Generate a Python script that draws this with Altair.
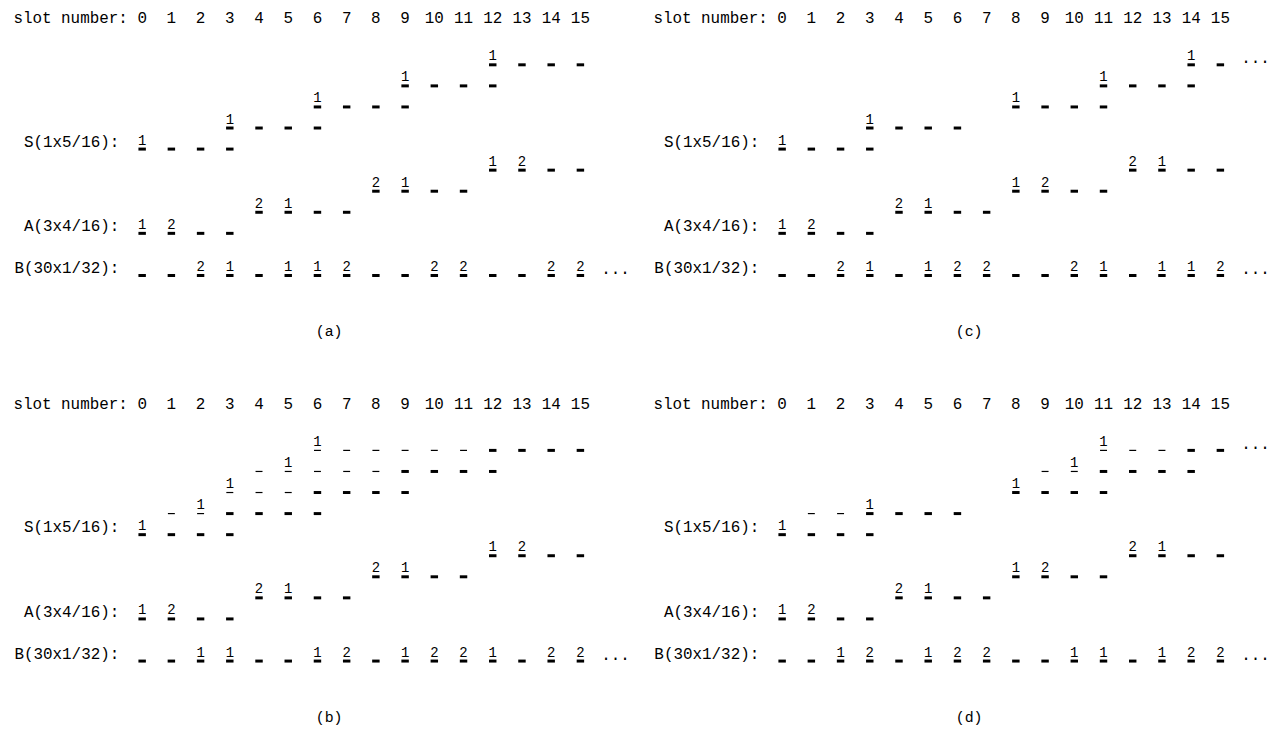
import altair as alt
import pandas as pd

# ---------------- data ----------------
PANELS = ["a", "b", "c", "d"]
SLOT_NUMBERS = [str(s) for s in range(16)]
HEADER_TEXT = "slot number:"
ROW_LABELS = {"S": "S(1x5/16):", "A": "A(3x4/16):", "B": "B(30x1/32):"}
CAPTIONS = {"a": "(a)", "b": "(b)", "c": "(c)", "d": "(d)"}

# per slot: '=' bold dash, '-' thin dash, '.' nothing ; numbers: digit or '.'
S_MARKS_A = ["====............", "...====.........", "......====......",
             ".........====...", "............===="]
S_NUMS_A = ["1...............", "...1............", "......1.........",
            ".........1......", "............1..."]
S_MARKS_B = ["====............", ".--====.........", "...---====......",
             "....-----====...", "......------===="]
S_NUMS_B = ["1...............", "..1.............", "...1............",
            ".....1..........", "......1........."]
S_MARKS_C = ["====............", "...====.........", "........====....",
             "...........====.", "..............=="]
S_NUMS_C = ["1...............", "...1............", "........1.......",
            "...........1....", "..............1."]
S_MARKS_D = ["====............", ".--====.........", "........====....",
             ".........--====.", "...........---=="]
S_NUMS_D = ["1...............", "...1............", "........1.......",
            "..........1.....", "...........1...."]

A_MARKS = ["====............", "....====........", "........====....",
           "............===="]
A_NUMS_AB = ["12..............", "....21..........", "........21......",
             "............12.."]
A_NUMS_CD = ["12..............", "....21..........", "........12......",
             "............21.."]

B_MARKS = "================"
B_NUMS = {"a": "..21.112..22..22", "b": "..11..12.1221.22",
          "c": "..21.122..21.112", "d": "..12.122..11.122"}

# rows that end with "..."
ELLIPSIS_ROWS = {"a": ["B"], "b": ["B"], "c": ["S4", "B"], "d": ["S4", "B"]}

S_DATA = {"a": (S_MARKS_A, S_NUMS_A), "b": (S_MARKS_B, S_NUMS_B),
          "c": (S_MARKS_C, S_NUMS_C), "d": (S_MARKS_D, S_NUMS_D)}
A_DATA = {"a": A_NUMS_AB, "b": A_NUMS_AB, "c": A_NUMS_CD, "d": A_NUMS_CD}

# line index of each row (one text line = one unit)
V_A0, V_S0, V_B, V_HEADER, V_CAPTION = 0, 4, -2, 10, -5
CAPTION_SLOT = 6.4

rows = []


def add_row(panel, v, marks, nums):
    for s, (m, n) in enumerate(zip(marks, nums)):
        if m == "=":
            rows.append(dict(panel=panel, kind="thick", x=s, v=v, text=""))
        elif m == "-":
            rows.append(dict(panel=panel, kind="thin", x=s, v=v, text=""))
        if n != ".":
            rows.append(dict(panel=panel, kind="num", x=s, v=v, text=n))


for p in PANELS:
    sm, sn = S_DATA[p]
    for k in range(5):
        add_row(p, V_S0 + k, sm[k], sn[k])
    for k in range(4):
        add_row(p, V_A0 + k, A_MARKS[k], A_DATA[p][k])
    add_row(p, V_B, B_MARKS, B_NUMS[p])
    for s, t in enumerate(SLOT_NUMBERS):
        rows.append(dict(panel=p, kind="hdr", x=s, v=V_HEADER, text=t))
    rows.append(dict(panel=p, kind="hdrlabel", x=0, v=V_HEADER, text=HEADER_TEXT))
    rows.append(dict(panel=p, kind="rowlabel", x=0, v=V_S0, text=ROW_LABELS["S"]))
    rows.append(dict(panel=p, kind="rowlabel", x=0, v=V_A0, text=ROW_LABELS["A"]))
    rows.append(dict(panel=p, kind="rowlabel", x=0, v=V_B, text=ROW_LABELS["B"]))
    for r in ELLIPSIS_ROWS[p]:
        vv = V_B if r == "B" else V_S0 + int(r[1:])
        rows.append(dict(panel=p, kind="dots", x=16, v=vv, text="..."))
    rows.append(dict(panel=p, kind="cap", x=CAPTION_SLOT, v=V_CAPTION, text=CAPTIONS[p]))

df = pd.DataFrame(rows)

# ---------------- layout ----------------
CELL_W, CELL_H = 636, 334
PANEL_DX, PANEL_DY = 644, 388
PX_SLOT = 29.4
SLOT0_PX = 135.0
LINE_PX = 21.2
V0_PX = 224.5

XMIN = -SLOT0_PX / PX_SLOT
XMAX = XMIN + CELL_W / PX_SLOT
VMAX = V0_PX / LINE_PX
VMIN = VMAX - CELL_H / LINE_PX
HDR_TOP_DY = -(V0_PX - V_HEADER * LINE_PX)   # header line's top sits at the view top

FONT = "Liberation Mono"

X = alt.X("x:Q", scale=alt.Scale(domain=[XMIN, XMAX], nice=False, zero=False), axis=None)
Y = alt.Y("v:Q", scale=alt.Scale(domain=[VMIN, VMAX], nice=False, zero=False), axis=None)


def make_panel(p):
    base = alt.Chart(df[df["panel"] == p])

    def flt(kind):
        return base.transform_filter(alt.datum.kind == kind)

    thick = flt("thick").mark_tick(orient="horizontal", size=7.5, thickness=3,
                                   color="black", opacity=1).encode(x=X, y=Y)
    thin = flt("thin").mark_tick(orient="horizontal", size=7, thickness=1.2,
                                 color="black", opacity=1).encode(x=X, y=Y)
    nums = flt("num").mark_text(font=FONT, fontSize=14, color="black", align="center",
                                baseline="alphabetic", dy=-4.5).encode(x=X, y=Y, text="text:N")
    hdr = flt("hdr").mark_text(font=FONT, fontSize=16, color="black", align="center",
                               baseline="top", dy=HDR_TOP_DY).encode(x=X, y=Y, text="text:N")
    hdrlabel = flt("hdrlabel").mark_text(font=FONT, fontSize=16, color="black", align="right",
                                         baseline="top", dy=HDR_TOP_DY, dx=-14.4).encode(
        x=X, y=Y, text="text:N")
    rowlabel = flt("rowlabel").mark_text(font=FONT, fontSize=16, color="black", align="right",
                                         baseline="alphabetic", dy=-2.4, dx=-23).encode(
        x=X, y=Y, text="text:N")
    dots = flt("dots").mark_text(font=FONT, fontSize=16, color="black", align="center",
                                 baseline="alphabetic", dy=-1.5, dx=6).encode(x=X, y=Y, text="text:N")
    cap = flt("cap").mark_text(font=FONT, fontSize=15, color="black", align="center",
                               baseline="alphabetic", dy=-2.4).encode(x=X, y=Y, text="text:N")
    return alt.layer(thick, thin, nums, hdr, hdrlabel, rowlabel, dots, cap).properties(
        width=CELL_W, height=CELL_H)


P = {p: make_panel(p) for p in PANELS}

chart = alt.vconcat(
    alt.hconcat(P["a"], P["c"], spacing=PANEL_DX - CELL_W),
    alt.hconcat(P["b"], P["d"], spacing=PANEL_DX - CELL_W),
    spacing=PANEL_DY - CELL_H,
).properties(
    padding=0, background="white"
).configure_view(stroke=None)

chart.save("out.html", embed_options={"renderer": "svg", "actions": False})
